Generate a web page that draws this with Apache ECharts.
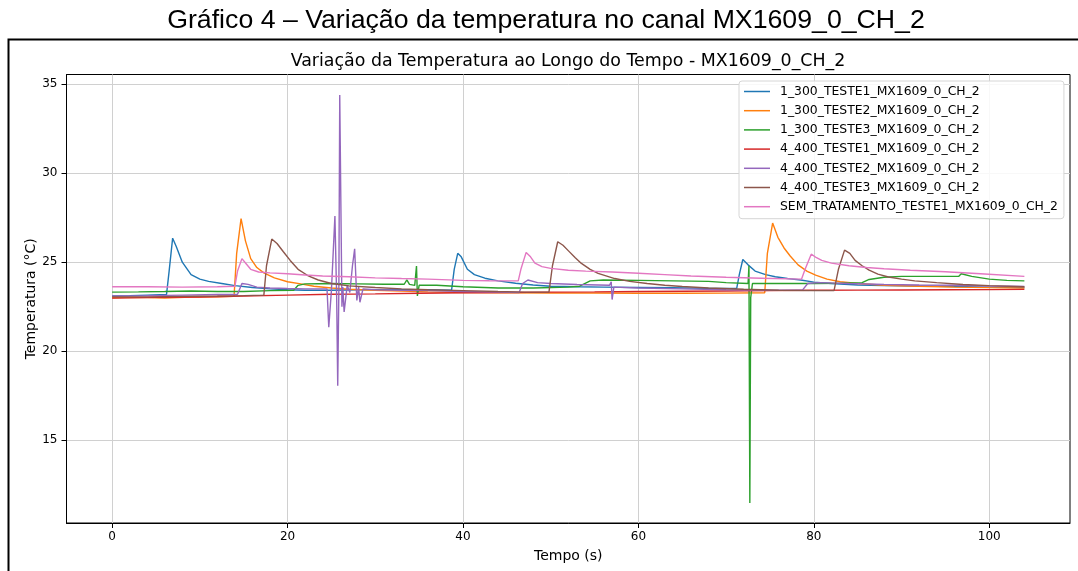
<!DOCTYPE html>
<html>
<head>
<meta charset="utf-8">
<script src="https://cdn.jsdelivr.net/npm/echarts@6/dist/echarts.min.js"></script>
<style>
html,body{margin:0;padding:0;background:#fff;}
#chart{width:1078px;height:571px;}
</style>
</head>
<body>
<div id="chart"></div>
<script>
// ---- data ----
const pageTitle = 'Gráfico 4 – Variação da temperatura no canal MX1609_0_CH_2';
const chartTitle = 'Variação da Temperatura ao Longo do Tempo - MX1609_0_CH_2';
const xName = 'Tempo (s)';
const yName = 'Temperatura (°C)';
const xTicks = [0, 20, 40, 60, 80, 100];
const yTicks = [15, 20, 25, 30, 35];
const seriesNames = [
  '1_300_TESTE1_MX1609_0_CH_2',
  '1_300_TESTE2_MX1609_0_CH_2',
  '1_300_TESTE3_MX1609_0_CH_2',
  '4_400_TESTE1_MX1609_0_CH_2',
  '4_400_TESTE2_MX1609_0_CH_2',
  '4_400_TESTE3_MX1609_0_CH_2',
  'SEM_TRATAMENTO_TESTE1_MX1609_0_CH_2'
];
const colors = ['#1f77b4','#ff7f0e','#2ca02c','#d62728','#9467bd','#8c564b','#e377c2'];

const s1_300_teste1 = [[0,23.10],[2,23.12],[4,23.15],[6.2,23.18],[6.5,24.5],[6.9,26.35],[7.3,25.9],[8,25.0],[9,24.3],[10,24.05],[11,23.92],[12.5,23.8],[14,23.68],[16,23.58],[18,23.5],[20,23.45],[22,23.42],[25,23.42],[28,23.45],[31,23.45],[34,23.46],[36,23.45],[38.7,23.43],[39.0,24.6],[39.4,25.5],[39.8,25.3],[40.5,24.6],[41.3,24.3],[42.5,24.1],[44,23.95],[46,23.82],[48,23.72],[50,23.65],[53,23.62],[56,23.6],[60,23.58],[64,23.56],[68,23.53],[71.2,23.52],[71.5,24.3],[71.9,25.15],[72.5,24.85],[73.3,24.5],[74.5,24.3],[75.6,24.18],[77,24.08],[78.5,24.0],[80,23.88],[82,23.8],[85,23.72],[88,23.68],[92,23.66],[96,23.63],[100,23.6],[104,23.58]];
const s1_300_teste2 = [[0,23.0],[3,23.02],[6,22.99],[9,23.04],[12,23.05],[13.9,23.08],[14.2,25.5],[14.7,27.45],[15.2,26.2],[15.8,25.2],[16.5,24.7],[17.3,24.4],[18.5,24.12],[20,23.9],[21.5,23.78],[23,23.65],[25,23.55],[27,23.48],[30,23.42],[33,23.38],[36,23.33],[40,23.3],[45,23.28],[50,23.27],[55,23.27],[60,23.25],[65,23.25],[70,23.26],[74.4,23.28],[74.7,25.5],[75.3,27.2],[75.9,26.4],[76.6,25.8],[77.3,25.35],[78.2,24.85],[79.2,24.5],[80.2,24.27],[81.5,24.05],[83,23.9],[85,23.8],[88,23.7],[92,23.65],[96,23.6],[100,23.57],[104,23.55]];
const s1_300_teste3 = [[0,23.32],[3,23.33],[6,23.35],[9,23.38],[12,23.35],[15,23.35],[18,23.4],[20.7,23.42],[21.2,23.7],[22,23.78],[25,23.8],[28,23.78],[31,23.76],[33.3,23.76],[33.6,24.0],[33.9,23.75],[34.5,23.7],[34.7,24.78],[34.8,23.1],[35.0,23.7],[37,23.7],[40,23.62],[44,23.55],[48,23.55],[52,23.6],[53.3,23.65],[54.5,23.95],[56,24.0],[60,23.98],[64,23.95],[68,23.92],[70,23.85],[72.5,23.8],[72.6,24.8],[72.7,11.46],[72.8,23.0],[73,23.8],[76,23.8],[80,23.8],[83,23.82],[85.5,23.85],[86.3,24.03],[88,24.15],[90,24.2],[93,24.2],[96.5,24.2],[96.8,24.35],[98,24.2],[100,24.05],[102,23.98],[104,23.95]];
const s4_400_teste1 = [[0,22.98],[5,23.02],[10,23.04],[15,23.1],[20,23.15],[25,23.2],[30,23.22],[35,23.25],[40,23.28],[45,23.3],[50,23.32],[55,23.33],[60,23.35],[65,23.37],[70,23.38],[75,23.4],[80,23.42],[85,23.43],[90,23.44],[95,23.45],[100,23.46],[104,23.47]];
const s4_400_teste2 = [[0,23.1],[4,23.12],[8,23.15],[12,23.18],[14.3,23.2],[14.8,23.8],[15.5,23.75],[16.5,23.6],[18,23.55],[20,23.52],[22,23.5],[24.5,23.5],[24.7,21.35],[25.0,23.4],[25.4,27.6],[25.6,23.0],[25.72,18.05],[25.85,23.5],[25.95,34.4],[26.2,22.5],[26.3,23.6],[26.45,22.2],[26.8,23.7],[27.1,23.3],[27.4,24.8],[27.65,25.75],[27.9,22.85],[28.1,23.6],[28.25,22.75],[28.6,23.5],[30,23.45],[33,23.42],[36,23.4],[40,23.35],[44,23.32],[46.4,23.3],[46.8,23.8],[47.4,24.0],[48.5,23.85],[50,23.8],[53,23.75],[56.7,23.7],[56.9,23.9],[57.0,22.9],[57.2,23.6],[60,23.55],[65,23.5],[70,23.45],[75,23.43],[78.7,23.43],[79.3,23.8],[80.5,23.85],[84,23.8],[88,23.75],[92,23.72],[96,23.7],[100,23.66],[104,23.63]];
const s4_400_teste3 = [[0,23.05],[4,23.05],[8,23.08],[12,23.1],[15,23.12],[17.3,23.15],[17.6,24.8],[18.2,26.3],[18.8,26.05],[19.5,25.6],[20.3,25.1],[21.2,24.6],[22.3,24.25],[23.5,24.0],[25,23.8],[27,23.67],[30,23.58],[33,23.5],[36,23.45],[40,23.4],[44,23.35],[47,23.32],[49.8,23.32],[50.2,24.8],[50.8,26.15],[51.4,25.95],[52,25.65],[52.8,25.25],[53.5,24.93],[54.5,24.6],[55.4,24.37],[57.3,24.08],[59,23.92],[61,23.8],[63,23.7],[65,23.63],[68,23.55],[72,23.48],[76,23.42],[80,23.4],[82.3,23.4],[82.8,24.6],[83.5,25.68],[84.1,25.5],[84.7,25.1],[85.5,24.8],[86.3,24.55],[87.3,24.33],[88.5,24.17],[90,24.05],[91.5,23.95],[94,23.85],[97,23.75],[100,23.68],[104,23.62]];
const sSemTratamento = [[0,23.62],[4,23.62],[8,23.6],[12,23.62],[14.0,23.65],[14.3,24.5],[14.8,25.2],[15.3,24.9],[15.8,24.6],[16.7,24.45],[18,24.4],[20,24.35],[22,24.28],[24,24.22],[27,24.18],[30,24.12],[33,24.08],[36,24.05],[40,23.98],[43,23.96],[46.3,23.95],[46.6,24.6],[47.2,25.55],[47.7,25.3],[48.2,24.95],[49,24.75],[50,24.65],[52,24.55],[54,24.5],[57,24.45],[60,24.38],[63,24.3],[66,24.22],[70,24.15],[74,24.1],[78.6,24.05],[79.0,24.6],[79.7,25.45],[80.3,25.25],[80.9,25.1],[82,24.95],[84,24.8],[86,24.7],[88,24.63],[91,24.55],[95,24.46],[99,24.35],[104,24.2]];

const seriesData = [s1_300_teste1, s1_300_teste2, s1_300_teste3, s4_400_teste1, s4_400_teste2, s4_400_teste3, sSemTratamento];

// ---- chart ----
const chart = echarts.init(document.getElementById('chart'), null, {renderer: 'canvas'});
const F = 'DejaVu Sans';
const option = {
  animation: false,
  backgroundColor: '#ffffff',
  color: colors,
  graphic: [
    {type: 'rect', silent: true, z: 0, shape: {x: 8.5, y: 39.5, width: 1080, height: 560},
     style: {fill: 'none', stroke: '#000', lineWidth: 2}},
    {type: 'text', silent: true, x: 546, y: 21,
     style: {text: pageTitle, font: '26.7px "Liberation Sans", Arial, sans-serif', fill: '#000', align: 'center', verticalAlign: 'middle'}},
    {type: 'text', silent: true, x: 568, y: 61,
     style: {text: chartTitle, font: '17.4px "DejaVu Sans"', fill: '#000', align: 'center', verticalAlign: 'middle'}}
  ],
  grid: {left: 66.5, top: 74.5, width: 1003.5, height: 448.5, show: true, borderColor: '#000', borderWidth: 1, backgroundColor: 'transparent'},
  legend: {
    orient: 'vertical', left: 739, top: 81,
    data: seriesNames,
    icon: 'rect', itemWidth: 26, itemHeight: 1.5, itemGap: 5.2,
    padding: [3.5, 6, 5, 5],
    backgroundColor: 'rgba(255,255,255,0.85)', borderColor: '#d6d6d6', borderWidth: 1, borderRadius: 3,
    textStyle: {fontFamily: F, fontSize: 12.4, color: '#000', lineHeight: 14, padding: [0, 0, 0, 5]}
  },
  xAxis: {
    type: 'value', min: -5.2, max: 109.2,
    name: xName, nameLocation: 'middle', nameGap: 26,
    nameTextStyle: {fontFamily: F, fontSize: 14, color: '#000'},
    axisLine: {show: true, onZero: false, lineStyle: {color: '#000', width: 1}},
    axisTick: {show: true, length: 5, lineStyle: {color: '#000', width: 1}, customValues: xTicks},
    axisLabel: {customValues: xTicks, fontFamily: F, fontSize: 12, color: '#000', margin: 8},
    splitLine: {show: true, lineStyle: {color: '#d0d0d0', width: 1}}
  },
  yAxis: {
    type: 'value', min: 10.34, max: 35.55,
    name: yName, nameLocation: 'middle', nameGap: 28, nameRotate: 90, nameMoveOverlap: false,
    nameTextStyle: {fontFamily: F, fontSize: 14, color: '#000'},
    axisLine: {show: true, onZero: false, lineStyle: {color: '#000', width: 1}},
    axisTick: {show: true, length: 5, lineStyle: {color: '#000', width: 1}, customValues: yTicks},
    axisLabel: {customValues: yTicks, fontFamily: F, fontSize: 12, color: '#000', margin: 9},
    splitLine: {show: true, lineStyle: {color: '#d0d0d0', width: 1}}
  },
  series: seriesNames.map((n, i) => ({
    name: n, type: 'line', data: seriesData[i],
    showSymbol: false, symbol: 'none',
    lineStyle: {width: 1.4, color: colors[i]},
    itemStyle: {color: colors[i]},
    z: 2 + i
  }))
};
chart.setOption(option);
</script>
</body>
</html>
